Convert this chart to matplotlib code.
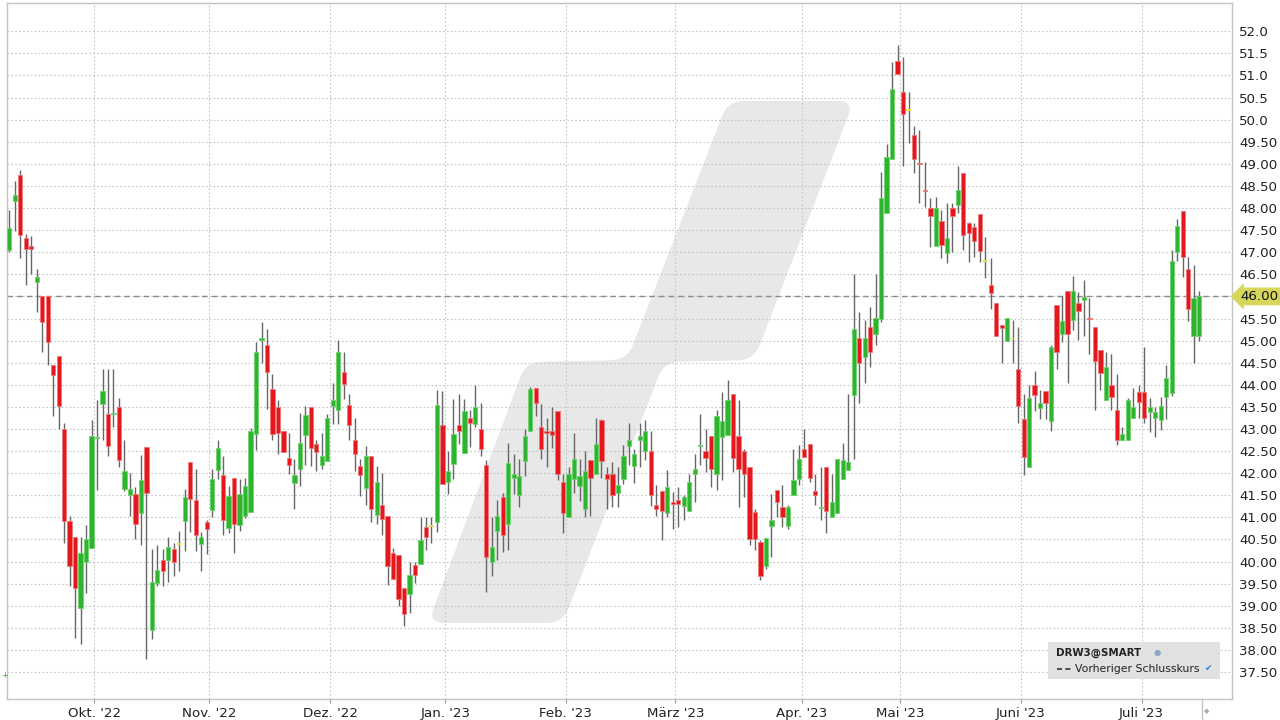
import numpy as np
import pandas as pd
import matplotlib
matplotlib.use('Agg')
import matplotlib.pyplot as plt
from matplotlib.patches import PathPatch, Rectangle
from matplotlib.path import Path
from matplotlib.lines import Line2D
from matplotlib.ticker import FixedLocator, FuncFormatter

plt.rcParams['font.family'] = ['DejaVu Sans']

''' 1. Daten (abgelesen) '''
o = [47.05, 48.15, 48.75, 47.32, 47.15, 46.33, 46.00, 46.00, 44.45, 44.66,
     43.01, 40.91, 40.55, 38.96, 40.00, 40.31, 42.79, 43.57, 43.35, 43.33,
     43.50, 41.65, 41.51, 41.54, 41.11, 42.60, 38.46, 39.51, 40.04, 40.04,
     40.29, 40.38, 40.92, 42.25, 41.40, 40.40, 40.89, 41.16, 42.07, 41.95,
     40.76, 41.89, 40.82, 41.03, 41.12, 42.88, 45.02, 44.91, 43.90, 43.50,
     42.96, 42.34, 41.77, 42.10, 42.87, 43.50, 42.65, 42.18, 42.28, 43.51,
     43.44, 44.29, 43.55, 42.76, 42.16, 41.67, 42.40, 41.06, 41.29, 41.04,
     40.20, 40.14, 39.40, 39.26, 39.92, 39.94, 40.79, 40.79, 40.90, 43.09,
     41.81, 42.20, 43.09, 42.45, 43.24, 43.11, 42.99, 42.18, 40.00, 40.70,
     41.45, 40.85, 41.90, 41.50, 42.27, 42.96, 43.92, 43.05, 42.96, 42.95,
     43.40, 41.80, 41.01, 41.86, 41.70, 41.20, 42.30, 41.99, 43.20, 41.98,
     41.98, 41.56, 41.86, 42.62, 42.16, 42.75, 42.51, 42.51, 41.28, 41.59,
     41.10, 41.34, 41.39, 41.25, 41.15, 41.99, 42.61, 42.51, 42.84, 41.99,
     42.81, 42.86, 43.79, 42.84, 42.51, 42.13, 41.13, 40.45, 39.90, 40.81,
     41.63, 41.24, 40.81, 41.50, 41.86, 42.54, 42.67, 41.59, 41.21, 42.14,
     41.01, 41.10, 41.86, 42.07, 43.78, 45.06, 44.63, 45.30, 45.14, 45.49,
     47.89, 49.12, 51.32, 50.62, 50.20, 49.65, 49.02, 48.40, 48.00, 47.13,
     47.71, 46.99, 48.00, 48.08, 48.80, 47.67, 47.56, 47.86, 46.79, 46.26,
     45.85, 45.36, 44.98, 45.04, 44.36, 43.22, 42.13, 44.00, 43.48, 43.87,
     43.18, 45.81, 45.15, 46.12, 45.47, 45.85, 45.93, 45.51, 45.30, 44.78,
     43.66, 44.00, 43.44, 42.75, 42.75, 43.26, 43.84, 43.84, 43.38, 43.26,
     43.21, 43.73, 43.82, 47.00, 47.94, 46.62, 45.11, 45.11]
h = [47.95, 48.62, 48.87, 47.42, 47.36, 46.63, 46.00, 46.00, 44.45, 44.66,
     43.13, 41.02, 40.55, 40.55, 40.83, 43.21, 43.66, 44.36, 44.36, 44.36,
     43.70, 42.76, 42.00, 41.69, 42.42, 42.60, 40.29, 40.38, 40.29, 40.55,
     40.42, 40.70, 41.64, 42.25, 42.09, 40.66, 40.95, 42.10, 42.76, 42.40,
     41.70, 41.89, 41.86, 41.89, 43.02, 44.96, 45.41, 45.26, 44.25, 43.66,
     42.96, 42.91, 42.31, 43.36, 43.51, 43.50, 42.76, 42.91, 43.35, 44.04,
     45.02, 44.75, 43.80, 43.25, 42.31, 42.62, 42.40, 42.16, 42.00, 41.04,
     40.31, 40.14, 39.40, 39.99, 40.00, 41.00, 41.00, 41.00, 43.89, 43.86,
     42.50, 43.69, 43.79, 43.69, 43.43, 44.00, 43.59, 42.30, 41.01, 41.39,
     41.56, 42.69, 42.43, 42.33, 43.01, 43.94, 43.92, 43.56, 43.24, 43.50,
     43.40, 41.99, 42.14, 42.90, 42.33, 42.50, 42.30, 43.24, 43.22, 42.14,
     42.26, 42.14, 42.63, 43.14, 42.54, 43.14, 43.20, 42.95, 41.73, 41.59,
     42.08, 41.58, 41.69, 41.50, 41.99, 42.43, 43.34, 43.00, 42.84, 43.44,
     43.84, 44.10, 43.79, 43.65, 42.54, 42.13, 41.18, 40.49, 40.54, 41.53,
     41.63, 41.73, 41.28, 42.54, 42.63, 42.99, 42.67, 41.99, 42.14, 42.14,
     41.99, 42.33, 42.69, 43.80, 46.51, 45.64, 45.47, 45.76, 46.51, 48.82,
     49.46, 51.30, 51.70, 51.41, 50.62, 49.85, 49.76, 49.05, 48.22, 48.26,
     47.95, 48.12, 48.11, 48.95, 48.80, 47.69, 47.67, 47.86, 47.35, 46.86,
     45.85, 45.36, 45.51, 45.47, 45.30, 43.80, 44.00, 44.31, 43.89, 43.87,
     44.91, 45.81, 46.00, 46.12, 46.47, 46.10, 46.37, 45.97, 45.30, 44.78,
     44.74, 44.70, 44.24, 43.04, 43.71, 43.93, 44.00, 44.85, 43.70, 43.50,
     43.73, 44.44, 47.05, 47.75, 47.94, 46.90, 46.72, 46.12]
l = [47.00, 47.47, 46.87, 46.26, 46.50, 45.65, 44.74, 44.45, 43.30, 43.00,
     40.43, 39.44, 38.27, 38.13, 39.29, 40.31, 41.63, 42.76, 42.40, 43.04,
     42.15, 41.59, 41.04, 40.51, 40.38, 37.80, 38.24, 39.44, 39.44, 39.54,
     39.68, 39.78, 40.24, 40.68, 40.24, 39.78, 40.18, 41.00, 41.86, 40.59,
     40.65, 40.20, 40.69, 40.99, 41.12, 42.53, 44.50, 43.45, 42.74, 42.44,
     42.47, 41.99, 41.18, 41.70, 42.19, 42.16, 42.04, 42.10, 42.28, 43.12,
     43.12, 43.69, 42.76, 42.04, 41.49, 41.29, 40.89, 40.84, 40.59, 39.48,
     39.61, 38.99, 38.54, 38.84, 39.52, 39.94, 40.26, 40.43, 40.67, 41.75,
     41.54, 41.87, 42.67, 42.45, 42.60, 43.05, 42.39, 39.32, 39.67, 40.03,
     40.22, 40.27, 41.53, 41.24, 41.93, 42.96, 43.29, 42.31, 42.14, 42.58,
     41.84, 40.64, 41.01, 41.56, 41.38, 41.00, 41.04, 41.99, 41.88, 41.19,
     41.24, 41.24, 41.75, 42.18, 41.78, 42.14, 42.30, 41.25, 41.04, 40.49,
     41.00, 40.73, 40.79, 40.94, 41.15, 41.35, 42.18, 42.03, 41.69, 41.63,
     41.84, 42.86, 42.03, 41.24, 41.45, 40.37, 40.27, 39.58, 39.84, 40.11,
     41.01, 40.79, 40.73, 41.50, 41.73, 42.36, 41.81, 41.28, 40.94, 40.65,
     41.01, 41.10, 41.86, 42.07, 42.32, 43.59, 44.05, 44.41, 44.91, 45.41,
     47.89, 49.12, 51.04, 48.95, 49.47, 48.80, 48.12, 48.03, 47.11, 47.13,
     46.86, 46.75, 47.01, 47.89, 47.05, 46.79, 46.90, 46.77, 46.41, 45.71,
     45.11, 44.50, 44.98, 44.50, 43.14, 41.95, 42.13, 43.41, 43.22, 43.22,
     42.95, 44.36, 44.96, 44.05, 45.25, 45.02, 45.10, 44.70, 43.44, 43.89,
     43.66, 43.44, 42.63, 42.75, 42.75, 43.26, 43.26, 43.13, 42.93, 42.82,
     42.97, 43.23, 43.75, 46.80, 46.45, 45.44, 44.50, 45.00]
c = [47.55, 48.30, 47.38, 47.08, 47.08, 46.45, 45.43, 44.97, 44.23, 43.51,
     40.92, 39.90, 39.41, 40.19, 40.50, 42.85, 42.81, 43.87, 42.62, 43.35,
     42.30, 42.06, 41.64, 40.86, 41.85, 41.55, 39.54, 39.80, 39.78, 40.34,
     40.00, 40.38, 41.45, 41.42, 40.61, 40.55, 40.74, 41.86, 42.56, 40.93,
     41.49, 40.86, 41.54, 41.70, 42.96, 44.75, 45.04, 44.28, 42.88, 42.92,
     42.47, 42.18, 41.95, 42.68, 43.31, 42.56, 42.47, 42.40, 43.25, 43.66,
     44.74, 44.02, 43.09, 42.43, 41.97, 42.40, 41.20, 41.80, 40.97, 39.91,
     39.61, 39.16, 38.82, 39.69, 39.69, 40.49, 40.55, 40.79, 43.54, 41.75,
     42.05, 42.88, 42.96, 43.40, 43.14, 43.49, 42.54, 40.11, 40.33, 41.03,
     40.60, 42.24, 41.99, 41.93, 42.84, 43.90, 43.58, 42.54, 42.91, 42.86,
     41.99, 41.09, 41.98, 42.33, 41.93, 42.05, 41.90, 42.67, 42.27, 41.86,
     41.50, 41.73, 42.39, 42.75, 42.43, 42.84, 42.95, 41.50, 41.19, 41.15,
     41.69, 41.31, 41.30, 41.47, 41.81, 42.09, 42.63, 42.35, 42.09, 43.29,
     43.19, 43.65, 42.35, 42.09, 41.99, 40.50, 40.50, 39.67, 40.54, 40.94,
     41.35, 41.00, 41.24, 41.84, 42.33, 42.36, 41.90, 41.50, 41.23, 41.15,
     41.34, 42.33, 42.30, 42.26, 45.26, 44.50, 45.06, 44.74, 45.51, 48.22,
     49.16, 50.70, 51.04, 50.12, 50.20, 49.12, 49.00, 48.38, 47.83, 48.00,
     47.17, 47.32, 47.83, 48.41, 47.38, 47.44, 47.26, 47.02, 46.79, 46.08,
     45.11, 45.29, 45.51, 45.04, 43.52, 42.37, 43.71, 43.78, 43.59, 43.59,
     44.86, 44.74, 45.45, 45.15, 46.12, 45.68, 45.99, 45.48, 44.53, 44.27,
     44.40, 43.72, 42.74, 42.88, 43.66, 43.49, 43.61, 43.26, 43.49, 43.38,
     43.53, 44.16, 46.80, 47.60, 46.90, 45.71, 45.96, 46.00]

prev_close = 46.00
symbol = 'DRW3@SMART'
legend_label = 'Vorheriger Schlusskurs'
month_names = {1: 'Jan.', 2: 'Feb.', 3: 'März', 4: 'Apr.', 5: 'Mai', 6: 'Juni',
               7: 'Juli', 8: 'Aug.', 9: 'Sep.', 10: 'Okt.', 11: 'Nov.', 12: 'Dez.'}
y_ticks = np.arange(37.5, 52.01, 0.5)

''' 2. Handelstage '''
dates = pd.bdate_range('2022-09-09', '2023-07-17')
dates = dates.drop(pd.to_datetime(['2022-12-26', '2023-04-07', '2023-04-10', '2023-05-01']))
df = pd.DataFrame({'open': o, 'high': h, 'low': l, 'close': c})
df['date'] = dates[:len(df)]
df['x'] = np.arange(len(df))

first_of_month = df.groupby(df['date'].dt.to_period('M'))['x'].min()
first_of_month = first_of_month.iloc[1:]  # Sept ohne Label
month_pos = first_of_month.values - 0.5
month_lbl = ["%s '%s" % (month_names[p.month], str(p.year)[2:]) for p in first_of_month.index]

''' 3. Zeichnen '''
GREEN, RED, YELLOW = '#2db52d', '#e3171c', '#e6e03c'
GREEN_E, RED_E = '#6fd36f', '#f07a7a'
W, H = 1280., 720.


def rounded_path(pts, r):
    # Polygon mit abgerundeten Ecken (quadratische Bezier an jeder Ecke)
    pts = [np.array(p, dtype=float) for p in pts]
    n = len(pts)
    verts, codes = [], []
    for i in range(n):
        p0, p1, p2 = pts[i - 1], pts[i], pts[(i + 1) % n]
        d1 = p0 - p1
        d2 = p2 - p1
        l1, l2 = np.hypot(*d1), np.hypot(*d2)
        rr = min(r, l1 / 2, l2 / 2)
        a = p1 + d1 / l1 * rr
        b = p1 + d2 / l2 * rr
        verts.append(a)
        codes.append(Path.MOVETO if i == 0 else Path.LINETO)
        verts += [p1, b]
        codes += [Path.CURVE3, Path.CURVE3]
    verts.append(verts[0])
    codes.append(Path.CLOSEPOLY)
    verts = [(x / W, 1 - y / H) for x, y in verts]
    return Path(verts, codes)


fig = plt.figure(figsize=(12.8, 7.2), dpi=100)
ax = fig.add_axes([7 / W, 21 / H, 1225 / W, 696 / H])
ax.set_xlim(-0.42, 223.0)
ax.set_ylim(36.89, 52.64)

# Wasserzeichen
pts = [(428, 623), (563, 623), (664, 362), (754, 360), (854, 101), (728, 101), (627, 360), (526, 362)]
wm = PathPatch(rounded_path(pts, 16), transform=fig.transFigure,
               facecolor='#e8e8e8', edgecolor='none', zorder=0.2)
ax.add_patch(wm)

ax.set_axisbelow(True)
ax.grid(True, which='major', color='#c4c4c4', linestyle=(0, (1.5, 2)), linewidth=0.8)
ax.axhline(prev_close, color='#8a8a8a', linestyle=(0, (4, 3)), linewidth=1.0, zorder=1.5)

up = df['close'] > df['open']
down = df['close'] < df['open']
flat = ~(up | down)
ax.vlines(df['x'], df['low'], df['high'], color='#666666', linewidth=1.0, zorder=2)
bottom = df[['open', 'close']].min(axis=1)
height = (df['close'] - df['open']).abs().clip(lower=0.03)
bw = 0.78
ax.bar(df['x'][up], height[up], bottom=bottom[up], width=bw, color=GREEN,
       edgecolor=GREEN_E, linewidth=0.6, zorder=3)
ax.bar(df['x'][down], height[down], bottom=bottom[down], width=bw, color=RED,
       edgecolor=RED_E, linewidth=0.6, zorder=3)
ax.bar(df['x'][flat], height[flat], bottom=bottom[flat], width=bw, color=YELLOW,
       linewidth=0, zorder=3)

# Achsen
ax.xaxis.set_major_locator(FixedLocator(month_pos))
ax.set_xticklabels(month_lbl)
ax.yaxis.tick_right()
ax.yaxis.set_major_locator(FixedLocator(y_ticks))
ax.yaxis.set_major_formatter(FuncFormatter(
    lambda v, p: '' if abs(v - prev_close) < 1e-6 else ('%.1f' % v if v >= 50 else '%.2f' % v)))
ax.tick_params(axis='y', length=0, pad=5, labelsize=9.6, labelcolor='#222222')
ax.tick_params(axis='x', length=3, width=0.8, color='#999999', pad=3, labelsize=9.6,
               labelcolor='#222222')
for sp in ax.spines.values():
    sp.set_color('#c4c4c4')
    sp.set_linewidth(1.0)

# Kurs-Marke
ax.text(1.0 + 8 / 1225, prev_close, '%.2f' % prev_close, transform=ax.get_yaxis_transform(),
        ha='left', va='center', fontsize=9.6, color='#111111', zorder=6,
        bbox=dict(boxstyle='larrow,pad=0.18', facecolor='#d6d65a', edgecolor='none'))

# Legende
fig.patches.append(Rectangle((1048 / W, 1 - 679 / H), 172 / W, 37 / H, transform=fig.transFigure,
                             facecolor='#e1e1e1', edgecolor='none', zorder=5))
fig.text(1056 / W, 1 - 653 / H, symbol, fontsize=7.4, fontweight='bold', color='#222222',
         va='center', ha='left', zorder=6)
fig.text(1157 / W, 1 - 653 / H, '\u25cf', fontsize=6, color='#8fa6c4', va='center', ha='center', zorder=6)
fig.add_artist(Line2D([1057 / W, 1071 / W], [1 - 669 / H, 1 - 669 / H], color='#333333',
                      linestyle=(0, (3, 2)), linewidth=1.2, zorder=6))
fig.text(1075 / W, 1 - 669 / H, legend_label, fontsize=7.8, color='#222222',
         va='center', ha='left', zorder=6)
fig.text(1209 / W, 1 - 669 / H, '\u2714', fontsize=6.5, color='#3b7dd8', va='center', ha='center', zorder=6)

# Scroll-Marke unten rechts
fig.add_artist(Line2D([1202 / W, 1202 / W], [0, 21 / H], color='#c4c4c4', linewidth=1.0))
fig.text(1207 / W, 1 - 711 / H, '\u25c6', fontsize=5, color='#aaaaaa', va='center', ha='center')
fig.text(1 / W, 1 - 676 / H, '+', fontsize=6, color='#2db52d', va='center', ha='left')

fig.savefig('out.png', dpi=100)
